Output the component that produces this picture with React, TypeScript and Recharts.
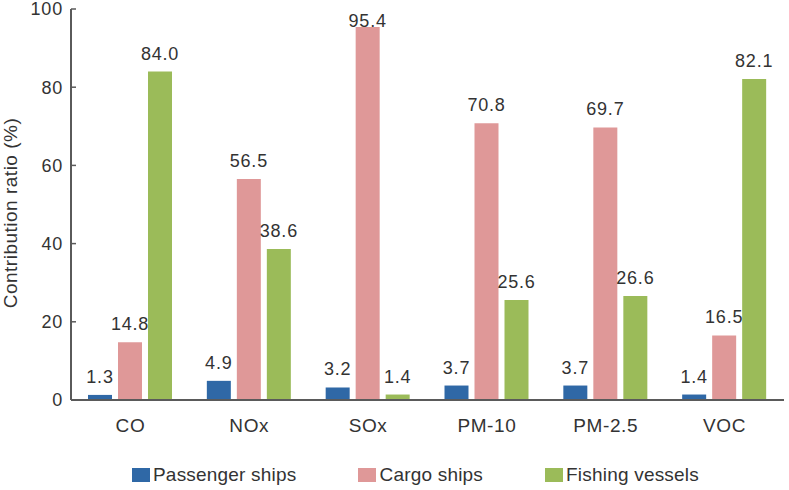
import React from 'react';
import { BarChart, Bar, XAxis, YAxis, LabelList, Legend } from 'recharts';

const pollutants = ['CO', 'NOx', 'SOx', 'PM-10', 'PM-2.5', 'VOC'];
const passengerShips = [1.3, 4.9, 3.2, 3.7, 3.7, 1.4];
const cargoShips = [14.8, 56.5, 95.4, 70.8, 69.7, 16.5];
const fishingVessels = [84.0, 38.6, 1.4, 25.6, 26.6, 82.1];
const yTicks = [0, 20, 40, 60, 80, 100];
const seriesNames = ['Passenger ships', 'Cargo ships', 'Fishing vessels'];
const seriesKeys = ['passenger', 'cargo', 'fishing'];
const seriesColors = ['#2f68a6', '#df9898', '#9bbb59'];

const data = pollutants.map((p, i) => ({
  name: p,
  passenger: passengerShips[i],
  cargo: cargoShips[i],
  fishing: fishingVessels[i],
}));

const FONT = '"Liberation Sans", Arial, sans-serif';
const TEXT = '#333';
const AXIS = '#5a5a5a';
const PLOT_TOP = 9;

const YTick = (props: any) => {
  const { x, y, payload } = props;
  return (
    <g>
      <line x1={x + 8} x2={x + 13} y1={y} y2={y} stroke={AXIS} strokeWidth={1.5} />
      <text
        x={x}
        y={y}
        dy="0.36em"
        textAnchor="end"
        fontSize={18}
        letterSpacing={0.8}
        fill={TEXT}
        fontFamily={FONT}
      >
        {payload.value}
      </text>
    </g>
  );
};

const XTick = (props: any) => {
  const { x, y, payload } = props;
  return (
    <text
      x={x}
      y={y}
      dy="0.71em"
      textAnchor="middle"
      fontSize={19}
      letterSpacing={0.6}
      fill={TEXT}
      fontFamily={FONT}
    >
      {payload.value}
    </text>
  );
};

const ValueLabel = (props: any) => {
  const { x, y, width, value } = props;
  const baseline = Math.max(y - 12, PLOT_TOP + 18);
  return (
    <text
      x={x + width / 2}
      y={baseline}
      textAnchor="middle"
      fontSize={18}
      letterSpacing={0.8}
      fill={TEXT}
      fontFamily={FONT}
    >
      {Number(value).toFixed(1)}
    </text>
  );
};

const YTitle = () => (
  <text
    x={0}
    y={0}
    transform="translate(17, 213) rotate(-90)"
    textAnchor="middle"
    fontSize={19}
    letterSpacing={0.5}
    fill={TEXT}
    fontFamily={FONT}
  >
    Contribution ratio (%)
  </text>
);

const LegendBox = () => (
  <div
    style={{
      display: 'flex',
      alignItems: 'center',
      paddingLeft: 132,
      height: 28,
      fontFamily: FONT,
      fontSize: 19,
      letterSpacing: 0.2,
      color: TEXT,
      gap: 62,
    }}
  >
    {seriesNames.map((n, i) => (
      <div key={n} style={{ display: 'flex', alignItems: 'center' }}>
        <span style={{ display: 'inline-block', width: 18, height: 14, background: seriesColors[i], marginRight: 3 }} />
        <span>{n}</span>
      </div>
    ))}
  </div>
);

export default function App() {
  return (
    <div style={{ position: 'absolute', left: 0, top: 0, background: '#fff' }}>
      <BarChart
        width={789}
        height={490}
        data={data}
        margin={{ top: PLOT_TOP, right: 5, left: 0, bottom: 32 }}
        barSize={24}
        barGap={6}
        style={{ fontFamily: FONT }}
      >
        <XAxis
          dataKey="name"
          height={30}
          tickLine={false}
          tickSize={0}
          tickMargin={19}
          axisLine={{ stroke: AXIS, strokeWidth: 2 }}
          tick={<XTick />}
        />
        <XAxis xAxisId="top" orientation="top" dataKey="name" height={0} tick={false} tickLine={false} axisLine={{ stroke: AXIS, strokeWidth: 2 }} />
        <YAxis
          width={71}
          domain={[0, 100]}
          ticks={yTicks}
          interval={0}
          tickLine={false}
          tickSize={0}
          tickMargin={8}
          axisLine={{ stroke: AXIS, strokeWidth: 2 }}
          tick={<YTick />}
          label={<YTitle />}
        />
        <YAxis yAxisId="right" orientation="right" width={0} domain={[0, 100]} tick={false} tickLine={false} axisLine={{ stroke: AXIS, strokeWidth: 2 }} />
        {seriesKeys.map((k, i) => (
          <Bar key={k} dataKey={k} name={seriesNames[i]} fill={seriesColors[i]} isAnimationActive={false}>
            <LabelList dataKey={k} content={<ValueLabel />} />
          </Bar>
        ))}
        <Legend
          verticalAlign="bottom"
          content={<LegendBox />}
          wrapperStyle={{ top: 461, left: 0, width: 789, height: 28 }}
        />
      </BarChart>
    </div>
  );
}
